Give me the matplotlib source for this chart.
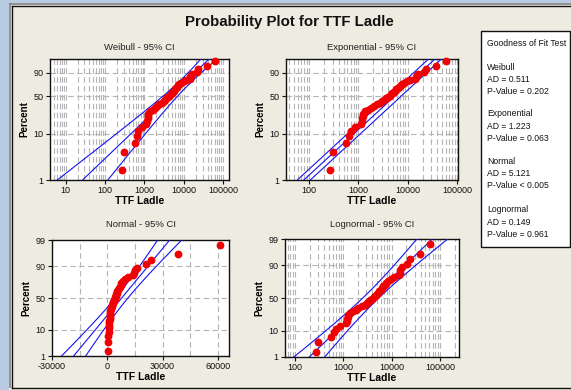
import math
import numpy as np
import matplotlib
matplotlib.use("Agg")
import matplotlib.pyplot as plt
from matplotlib import ticker
from matplotlib.patches import Rectangle
from matplotlib.lines import Line2D

# ---------------- data ----------------
ttf_ladle = [270, 300, 560, 650, 700, 850, 1120, 1180, 1200, 1230, 1260, 1350,
             1600, 1800, 2050, 2400, 2800, 3050, 3300, 3600, 3900, 4300,
             4600, 4900, 5200, 5500, 5900, 6300, 6700, 7200, 7600, 8500,
             9800, 11300, 14000, 14600, 15200, 16200, 21000, 23500, 38300, 61000]
distributions = ["Weibull", "Exponential", "Normal", "Lognormal"]
ad_values = ["0.511", "1.223", "5.121", "0.149"]
p_values = ["= 0.202", "= 0.063", "< 0.005", "= 0.961"]
xticks_weibull = [10, 100, 1000, 10000, 100000]
xticks_expo = [100, 1000, 10000, 100000]
xticks_normal = [-30000, 0, 30000, 60000]
xticks_logn = [100, 1000, 10000, 100000]
yticks_sev = [1, 10, 50, 90]
yticks_norm = [1, 10, 50, 90, 99]

FONT = ["Liberation Sans", "DejaVu Sans"]
plt.rcParams["font.family"] = FONT
W, H = 571, 390
BG = "#EEEBE1"


def fx(px):
    return px / W


def fy(py):
    return 1 - py / H


# ---------------- helpers ----------------
def norm_ppf(p):
    p = np.asarray(p, float)
    a = [-3.969683028665376e+01, 2.209460984245205e+02, -2.759285104469687e+02,
         1.383577518672690e+02, -3.066479806614716e+01, 2.506628277459239e+00]
    b = [-5.447609879822406e+01, 1.615858368580409e+02, -1.556989798598866e+02,
         6.680131188771972e+01, -1.328068155288572e+01]
    c = [-7.784894002430293e-03, -3.223964580411365e-01, -2.400758277161838e+00,
         -2.549671010115146e+00, 4.374664141464968e+00, 2.938163982698783e+00]
    d = [7.784695709041462e-03, 3.224671290700398e-01, 2.445134137142996e+00,
         3.754408661907416e+00]
    out = np.empty_like(p)
    plow = 0.02425
    lo = p < plow
    hi = p > 1 - plow
    mid = ~(lo | hi)
    q = np.sqrt(-2 * np.log(p[lo]))
    out[lo] = (((((c[0]*q+c[1])*q+c[2])*q+c[3])*q+c[4])*q+c[5]) / ((((d[0]*q+d[1])*q+d[2])*q+d[3])*q+1)
    q = p[mid] - 0.5
    r = q * q
    out[mid] = (((((a[0]*r+a[1])*r+a[2])*r+a[3])*r+a[4])*r+a[5])*q / (((((b[0]*r+b[1])*r+b[2])*r+b[3])*r+b[4])*r+1)
    q = np.sqrt(-2 * np.log(1 - p[hi]))
    out[hi] = -(((((c[0]*q+c[1])*q+c[2])*q+c[3])*q+c[4])*q+c[5]) / ((((d[0]*q+d[1])*q+d[2])*q+d[3])*q+1)
    return out


_erf = np.vectorize(math.erf)


def norm_fwd(pct):
    p = np.clip(np.asarray(pct, float) / 100.0, 1e-9, 1 - 1e-9)
    return norm_ppf(p)


def norm_inv(z):
    z = np.asarray(z, float)
    return 100 * 0.5 * (1 + _erf(z / math.sqrt(2)))


def sev_fwd(pct):
    p = np.clip(np.asarray(pct, float) / 100.0, 1e-9, 1 - 1e-9)
    return np.log(-np.log(1 - p))


def sev_inv(w):
    w = np.asarray(w, float)
    return 100 * (1 - np.exp(-np.exp(w)))


# ---------------- fits ----------------
x = np.sort(np.array(ttf_ladle, float))
n = len(x)
pct = 100 * (np.arange(1, n + 1) - 0.3) / (n + 0.4)
lx = np.log(x)
zc = 1.959964

# Weibull MLE
xs = x / x.max()


def g(beta):
    xb = xs ** beta
    return np.sum(xb * lx) / np.sum(xb) - 1 / beta - lx.mean()


lo_b, hi_b = 0.05, 20.0
for _ in range(200):
    m = 0.5 * (lo_b + hi_b)
    if g(m) < 0:
        lo_b = m
    else:
        hi_b = m
beta = 0.5 * (lo_b + hi_b)
eta = x.max() * np.mean(xs ** beta) ** (1 / beta)
u_w, b_w = np.log(eta), 1 / beta

theta = x.mean()
mu_l, s_l = lx.mean(), lx.std()
mu_n, s_n = x.mean(), x.std()

wgrid = np.linspace(sev_fwd(0.3), sev_fwd(99.95), 400)
zgrid = np.linspace(norm_fwd(0.2), norm_fwd(99.9), 400)
pw = sev_inv(wgrid)
pz = norm_inv(zgrid)


def weibull_lines():
    yp = u_w + wgrid * b_w
    se = b_w * np.sqrt((1.1087 - 0.5140 * wgrid + 0.6079 * wgrid ** 2) / n)
    return [np.exp(yp - zc * se), np.exp(yp), np.exp(yp + zc * se)]


def expo_lines():
    yp = np.log(theta) + wgrid
    se = 1 / np.sqrt(n)
    return [np.exp(yp - zc * se), np.exp(yp), np.exp(yp + zc * se)]


def logn_lines():
    yp = mu_l + zgrid * s_l
    se = s_l * np.sqrt((1 + zgrid ** 2 / 2) / n)
    return [np.exp(yp - zc * se), np.exp(yp), np.exp(yp + zc * se)]


def norm_lines():
    yp = mu_n + zgrid * s_n
    se = s_n * np.sqrt((1 + zgrid ** 2 / 2) / n)
    return [yp - zc * se, yp, yp + zc * se]


# ---------------- figure ----------------
fig = plt.figure(figsize=(W / 100, H / 100), dpi=100, facecolor=BG)

# window frame
fig.add_artist(Rectangle((0, fy(3)), 1, fy(0) - fy(3), transform=fig.transFigure,
                         facecolor="#B8CBE3", edgecolor="none"))
fig.add_artist(Rectangle((0, 0), fx(9), 1, transform=fig.transFigure,
                         facecolor="#B8CBE3", edgecolor="none"))
fig.add_artist(Line2D([fx(10), fx(10)], [fy(4), fy(387)], transform=fig.transFigure,
                      color="#8A8A8A", lw=1.3))
fig.add_artist(Line2D([fx(10), 1], [fy(4), fy(4)], transform=fig.transFigure,
                      color="#8A8A8A", lw=1.3))
fig.add_artist(Line2D([fx(11.8), fx(11.8)], [fy(6), fy(387.5)], transform=fig.transFigure,
                      color="#101010", lw=1.0))
fig.add_artist(Line2D([fx(11.8), 1], [fy(6), fy(6)], transform=fig.transFigure,
                      color="#101010", lw=1.0))
fig.add_artist(Line2D([fx(11.8), 1], [fy(387.5), fy(387.5)], transform=fig.transFigure,
                      color="#101010", lw=1.0))

fig.text(fx(289), fy(22), "Probability Plot for TTF Ladle", ha="center", va="center",
         fontsize=10.8, fontweight="bold", color="#111111")

panels = [
    dict(box=(50, 59, 229, 180), scale="sev", xlog=True, xlim=(4, 140000),
         xt=xticks_weibull, lines=weibull_lines(), yt=yticks_sev, title_y=48),
    dict(box=(286, 59, 458, 180), scale="sev", xlog=True, xlim=(34, 105000),
         xt=xticks_expo, lines=expo_lines(), yt=yticks_sev, title_y=48),
    dict(box=(52, 240, 229, 356), scale="norm", xlog=False, xlim=(-30000, 66000),
         xt=xticks_normal, lines=norm_lines(), yt=yticks_norm, title_y=225),
    dict(box=(285, 239, 459, 357), scale="norm", xlog=True, xlim=(62, 247000),
         xt=xticks_logn, lines=logn_lines(), yt=yticks_norm, title_y=225),
]

grid_kw = dict(color="#B4B4B4", linestyle=(0, (5, 3)), linewidth=0.8)

for name, pn in zip(distributions, panels):
    x0, y0, x1, y1 = pn["box"]
    ax = fig.add_axes([fx(x0), fy(y1), fx(x1) - fx(x0), fy(y0) - fy(y1)])
    ax.set_facecolor("white")
    if pn["scale"] == "sev":
        ax.set_yscale("function", functions=(sev_fwd, sev_inv))
        ygrid_p = pw
    else:
        ax.set_yscale("function", functions=(norm_fwd, norm_inv))
        ygrid_p = pz
    if pn["xlog"]:
        ax.set_xscale("log")
        ax.xaxis.set_minor_locator(ticker.LogLocator(base=10, subs=np.arange(2, 10)))
    else:
        ax.xaxis.set_minor_locator(ticker.MultipleLocator(15000))
    ax.set_xlim(*pn["xlim"])
    ax.set_ylim(1, 99)
    ax.xaxis.set_major_locator(ticker.FixedLocator(pn["xt"]))
    ax.xaxis.set_major_formatter(ticker.FixedFormatter([str(v) for v in pn["xt"]]))
    ax.xaxis.set_minor_formatter(ticker.NullFormatter())
    ax.yaxis.set_major_locator(ticker.FixedLocator(pn["yt"]))
    ax.yaxis.set_major_formatter(ticker.FixedFormatter([str(v) for v in pn["yt"]]))
    ax.yaxis.set_minor_locator(ticker.NullLocator())
    ax.grid(True, which="major", **grid_kw)
    ax.grid(True, which="minor", axis="x", **grid_kw)
    ax.set_axisbelow(True)
    ax.tick_params(which="major", direction="out", length=3, width=0.8,
                   labelsize=6.5, pad=1.5, colors="#111111")
    ax.tick_params(which="minor", length=0)
    for s in ax.spines.values():
        s.set_linewidth(1.0)
        s.set_color("#111111")

    for ln in pn["lines"]:
        ax.plot(ln, ygrid_p, color="#1414F0", lw=0.8, zorder=3)
    ax.plot(x, pct, "o", color="#F00000", ms=4.6, mec="#F00000", zorder=4,
            clip_on=False)
    ax.set_xlim(*pn["xlim"])
    ax.set_ylim(1, 99)

    ax.set_xlabel("TTF Ladle", fontsize=7.5, fontweight="bold", labelpad=0.5)
    ax.set_ylabel("Percent", fontsize=7, fontweight="bold", labelpad=3)
    fig.text(fx((x0 + x1) / 2), fy(pn["title_y"]), f"{name} - 95% CI",
             ha="center", va="center", fontsize=6.8, color="#222222")

# Goodness of fit box
fig.add_artist(Rectangle((fx(481), fy(247)), fx(569.5) - fx(481), fy(31) - fy(247),
                         transform=fig.transFigure, facecolor="white",
                         edgecolor="#111111", lw=1.0))
fig.text(fx(487), fy(43), "Goodness of Fit Test", fontsize=6.2, va="center", color="#111111")
row_y = [67, 114, 161, 210]
for name, ad, pv, yy in zip(distributions, ad_values, p_values, row_y):
    fig.text(fx(487), fy(yy), name, fontsize=6.2, va="center", color="#111111")
    fig.text(fx(487), fy(yy + 12.5), f"AD = {ad}", fontsize=6.2, va="center", color="#111111")
    fig.text(fx(487), fy(yy + 24.5), f"P-Value {pv}", fontsize=6.2, va="center", color="#111111")

fig.savefig("out.png", dpi=100, facecolor=BG)
